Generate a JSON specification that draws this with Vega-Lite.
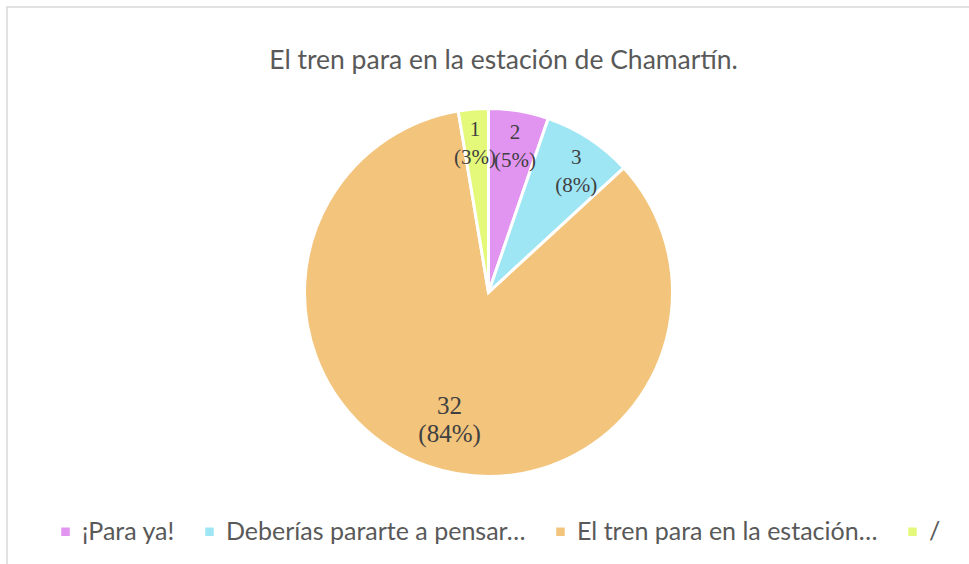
{
  "$schema": "https://vega.github.io/schema/vega-lite/v6.json",
  "width": 963,
  "height": 571,
  "autosize": {"type": "none"},
  "padding": {"left": 7, "top": 7, "right": -1, "bottom": -14},
  "background": "white",
  "config": {"view": {"stroke": null}},
  "title": {
    "text": "El tren para en la estación de Chamartín.",
    "font": "Lato",
    "fontSize": 26.5,
    "fontWeight": "normal",
    "color": "#595959",
    "anchor": "middle",
    "frame": "group",
    "dx": 15,
    "offset": -89,
    "baseline": "alphabetic"
  },
  "data": {
    "values": [
      {"orden": 1, "respuesta": "¡Para ya!", "respuestas": 2},
      {"orden": 2, "respuesta": "Deberías pararte a pensar…", "respuestas": 3},
      {"orden": 3, "respuesta": "El tren para en la estación…", "respuestas": 32},
      {"orden": 4, "respuesta": "/", "respuestas": 1}
    ]
  },
  "layer": [
    {
      "data": {"values": [{"marco": 1}]},
      "mark": {"type": "rect", "fill": "transparent", "stroke": "#d9d9d9", "strokeWidth": 1.5},
      "encoding": {}
    },
    {
      "transform": [
        {"joinaggregate": [{"op": "sum", "field": "respuestas", "as": "total"}]},
        {"calculate": "datum.respuestas + '\\n(' + round(100 * datum.respuestas / datum.total) + '%)'", "as": "etiqueta"}
      ],
      "encoding": {
        "theta": {"field": "respuestas", "type": "quantitative", "stack": true},
        "order": {"field": "orden", "type": "quantitative"}
      },
      "layer": [
        {
          "mark": {"type": "arc", "outerRadius": 184, "stroke": "white", "strokeWidth": 3},
          "encoding": {
            "color": {
              "field": "respuesta",
              "type": "nominal",
              "scale": {
                "domain": ["¡Para ya!", "Deberías pararte a pensar…", "El tren para en la estación…", "/"],
                "range": ["#e295f0", "#9ee6f4", "#f3c47c", "#e4f97a"]
              },
              "legend": {
                "orient": "none",
                "direction": "horizontal",
                "columns": 4,
                "legendX": 46,
                "legendY": 512,
                "title": null,
                "symbolType": "square",
                "symbolSize": 72,
                "symbolStrokeWidth": 0,
                "labelFont": "Lato",
                "labelFontSize": 25,
                "labelColor": "#595959",
                "labelOffset": 4,
                "labelLimit": 500,
                "columnPadding": 22
              }
            }
          }
        },
        {
          "mark": {
            "type": "text",
            "font": "Liberation Serif",
            "lineBreak": "\n",
            "lineHeight": 28,
            "fill": "#404040"
          },
          "encoding": {
            "text": {"field": "etiqueta", "type": "nominal"},
            "size": {"condition": {"test": "datum.respuestas > 10", "value": 25}, "value": 21},
            "radius": {
              "field": "respuestas",
              "type": "quantitative",
              "scale": {"type": "linear", "domain": [1, 32], "range": [163, 120], "zero": false}
            }
          }
        }
      ]
    }
  ]
}
